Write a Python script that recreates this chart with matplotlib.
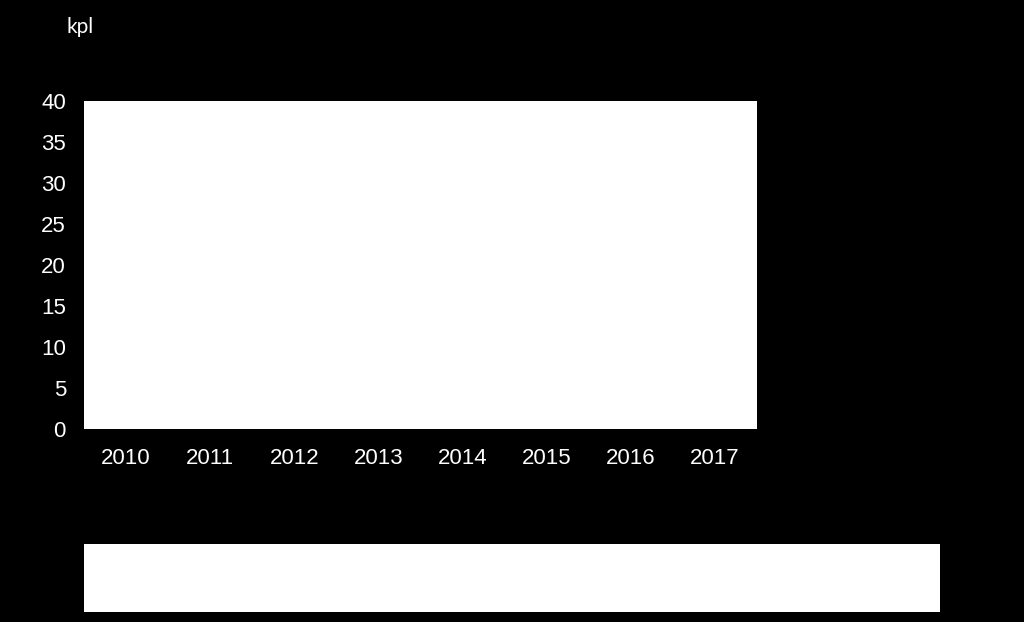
import matplotlib
matplotlib.use("Agg")
import matplotlib.pyplot as plt
from matplotlib.patches import Rectangle

years = ["2010", "2011", "2012", "2013", "2014", "2015", "2016", "2017"]
y_ticks = [0, 5, 10, 15, 20, 25, 30, 35, 40]
unit_label = "kpl"
top_label_year = "2017"
top_label_text = "37"

fig = plt.figure(figsize=(10.24, 6.22), dpi=100, facecolor="black")
ax = fig.add_axes([84/1024, 1-429/622, (757-84)/1024, (429-101)/622])
ax.set_facecolor("white")
x = list(range(len(years)))
ax.set_xlim(-0.5, len(years) - 0.5)
ax.set_ylim(0, 40)
ax.set_xticks(x)
ax.set_xticklabels(years)
ax.set_yticks(y_ticks)
ax.set_yticklabels([str(t) for t in y_ticks])
for s in ax.spines.values():
    s.set_visible(False)
ax.tick_params(axis="both", length=0, colors="white", labelsize=16)
ax.tick_params(axis="x", pad=14)
ax.tick_params(axis="y", pad=13)
for lab in ax.get_xticklabels() + ax.get_yticklabels():
    lab.set_family("Liberation Sans")

ax.text(years.index(top_label_year), 41.2, top_label_text, ha="center", va="center",
        color="black", fontsize=16, family="Liberation Sans", clip_on=False)

fig.text(80/1024, 1-27/622, unit_label, color="white", fontsize=15, family="Lato",
         ha="center", va="center")

fig.patches.append(Rectangle((84/1024, 1-612/622), (940-84)/1024, (612-544)/622,
                             transform=fig.transFigure, facecolor="white",
                             edgecolor="none"))

fig.savefig("out.png", dpi=100, facecolor="black")
